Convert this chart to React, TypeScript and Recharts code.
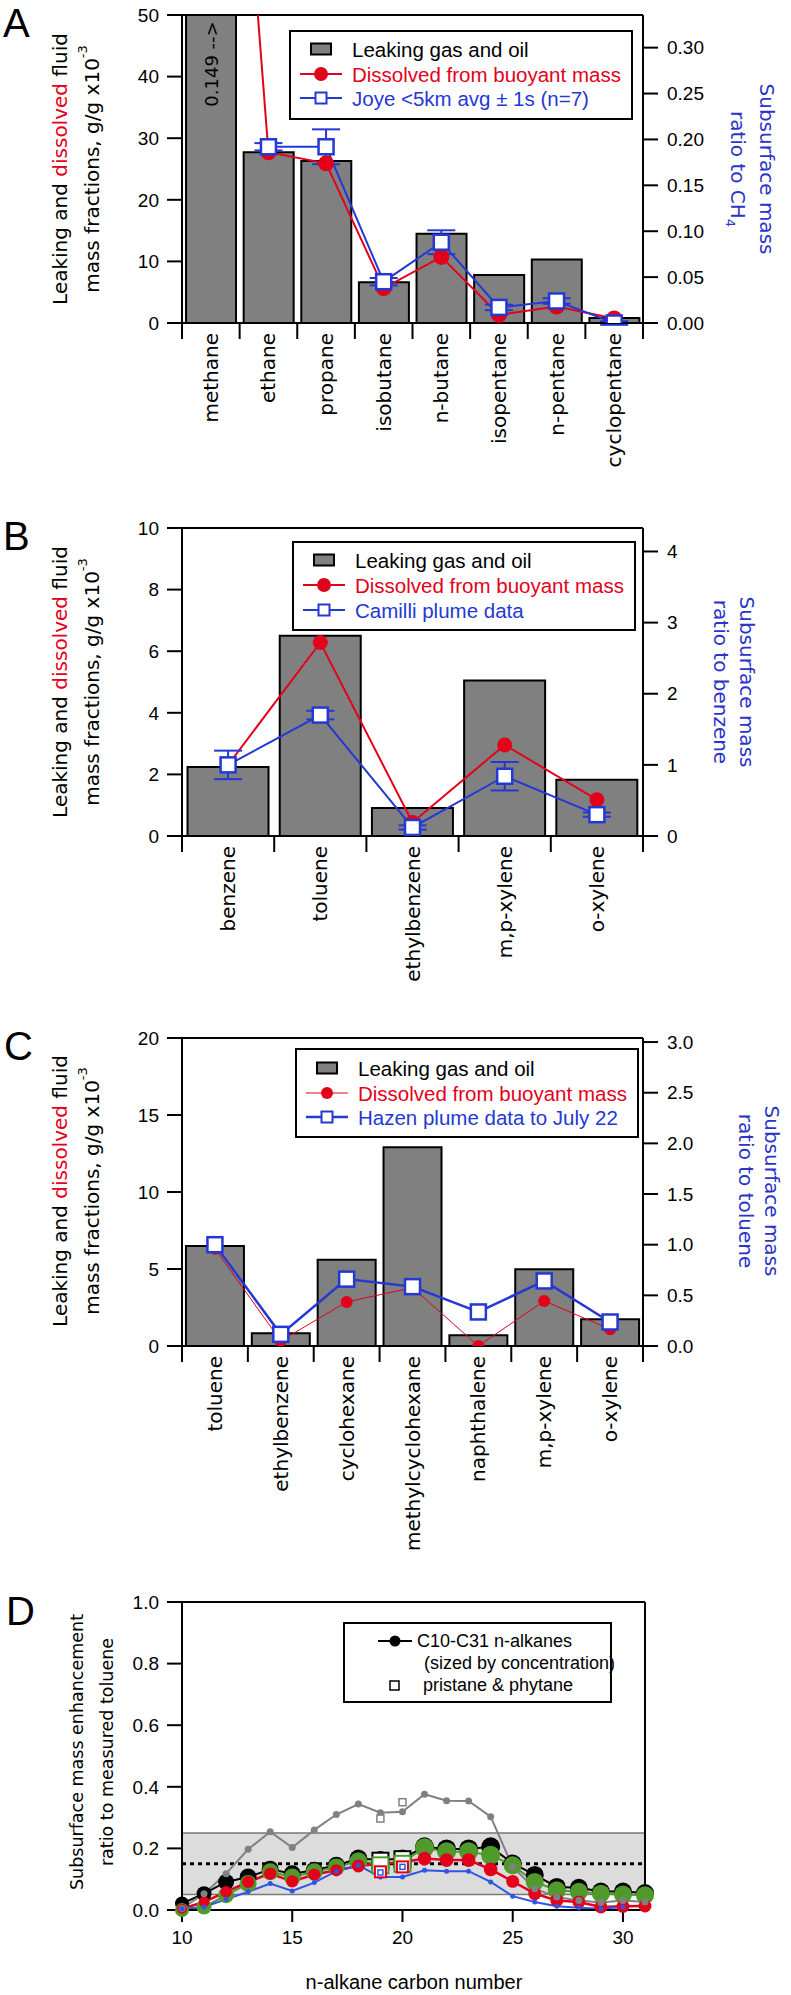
import React from 'react';
import { ComposedChart, Bar, Line, XAxis, YAxis, ReferenceLine, ReferenceArea, ErrorBar } from 'recharts';

// ---- data (left axis in g/g x10^-3, right axis as ratio) ----
const catsA = ['methane', 'ethane', 'propane', 'isobutane', 'n-butane', 'isopentane', 'n-pentane', 'cyclopentane'];
const leakA = [149, 27.7, 26.3, 6.6, 14.5, 7.8, 10.3, 0.8];
const dissolvedA = [1.0, 0.186, 0.174, 0.038, 0.072, 0.009, 0.018, 0.005];
const joyeA = [null, 0.192, 0.192, 0.045, 0.088, 0.017, 0.024, 0.0];
const joyeErrA = [null, 0.004, 0.019, 0.004, 0.013, 0.003, 0.003, 0.002];

const catsB = ['benzene', 'toluene', 'ethylbenzene', 'm,p-xylene', 'o-xylene'];
const leakB = [2.24, 6.5, 0.91, 5.05, 1.83];
const dissolvedB = [1.0, 2.72, 0.19, 1.28, 0.51];
const camilliB = [1.0, 1.7, 0.12, 0.84, 0.3];
const camilliErrB = [0.2, 0.06, 0.03, 0.2, 0.03];

const catsC = ['toluene', 'ethylbenzene', 'cyclohexane', 'methylcyclohexane', 'naphthalene', 'm,p-xylene', 'o-xylene'];
const leakC = [6.5, 0.82, 5.6, 12.9, 0.69, 4.99, 1.73];
const dissolvedC = [0.96, 0.05, 0.435, 0.576, 0.0, 0.445, 0.165];
const hazenC = [1.0, 0.115, 0.66, 0.586, 0.336, 0.642, 0.237];

const carbonNumbers = [10, 11, 12, 13, 14, 15, 16, 17, 18, 19, 20, 21, 22, 23, 24, 25, 26, 27, 28, 29, 30, 31];
const alkBlack = [0.021, 0.053, 0.091, 0.107, 0.132, 0.118, 0.129, 0.145, 0.167, 0.162, 0.167, 0.205, 0.198, 0.198, 0.205, 0.151, 0.114, 0.075, 0.072, 0.06, 0.06, 0.055];
const alkGreen = [0.0, 0.01, 0.048, 0.086, 0.124, 0.107, 0.124, 0.14, 0.158, 0.15, 0.155, 0.202, 0.189, 0.189, 0.178, 0.145, 0.091, 0.064, 0.059, 0.053, 0.05, 0.048];
const alkRed = [0.004, 0.026, 0.059, 0.091, 0.118, 0.093, 0.115, 0.129, 0.143, 0.15, 0.155, 0.167, 0.162, 0.162, 0.132, 0.093, 0.053, 0.031, 0.026, 0.01, 0.012, 0.013];
const alkGray = [0.005, 0.053, 0.118, 0.197, 0.254, 0.203, 0.26, 0.31, 0.344, 0.316, 0.319, 0.376, 0.355, 0.354, 0.303, 0.14, 0.069, 0.042, 0.031, 0.024, 0.031, 0.026];
const alkBlue = [0.004, 0.01, 0.035, 0.059, 0.086, 0.062, 0.089, 0.126, 0.145, 0.107, 0.107, 0.129, 0.126, 0.126, 0.091, 0.045, 0.026, 0.012, 0.007, 0.004, 0.01, null];
const alkSize = [7, 7.5, 8, 8.5, 8.5, 8.5, 8.5, 8.5, 9, 9, 9, 9.5, 9.5, 9.5, 9.5, 9, 9, 9, 9, 9, 9, 9];

// pristane (C19) & phytane (C20)
const isoN = [19, 20];
const isoBlack = [0.16, 0.165];
const isoGreen = [0.145, 0.15];
const isoRed = [0.124, 0.14];
const isoBlue = [0.122, 0.14];
const isoGray = [0.297, 0.35];

const bandLow = 0.05;
const bandHigh = 0.25;
const bandMid = 0.15;

// ---- tables ----
const tableA = catsA.map((name, i) => ({ name, leak: leakA[i], dissolved: dissolvedA[i], plume: joyeA[i], err: joyeErrA[i] }));
const tableB = catsB.map((name, i) => ({ name, leak: leakB[i], dissolved: dissolvedB[i], plume: camilliB[i], err: camilliErrB[i] }));
const tableC = catsC.map((name, i) => ({ name, leak: leakC[i], dissolved: dissolvedC[i], plume: hazenC[i] }));
const tableD = carbonNumbers.map((n, i) => {
  const k = isoN.indexOf(n);
  return {
    n,
    size: alkSize[i],
    black: alkBlack[i],
    green: alkGreen[i],
    red: alkRed[i],
    gray: alkGray[i],
    blue: alkBlue[i],
    isoBlack: k >= 0 ? isoBlack[k] : null,
    isoGreen: k >= 0 ? isoGreen[k] : null,
    isoRed: k >= 0 ? isoRed[k] : null,
    isoBlue: k >= 0 ? isoBlue[k] : null,
    isoGray: k >= 0 ? isoGray[k] : null,
  };
});

// ---- styles ----
const TICK_FONT = '"Liberation Sans", Arial, sans-serif';
const LABEL_FONT = '"DejaVu Sans", Verdana, sans-serif';
const RED = '#e3001b';
const BLUE = '#2438d4';
const TITLE_BLUE = '#2a34c8';
const GREEN = '#4f9a2b';
const GRAY = '#808080';

const PLOT_LEFT = 182;
const PLOT_RIGHT = 643;
const PLOT_W = PLOT_RIGHT - PLOT_LEFT;
const W = 791;

const tickStyle = { fill: '#000', fontSize: 19, fontFamily: TICK_FONT };
const axisStroke = { stroke: '#000', strokeWidth: 2 };

function makeCategoryTick(count: number) {
  const band = PLOT_W / count;
  return (props: any) => {
    const { x, y, payload, index } = props;
    return (
      <g>
        <line x1={x - band / 2} x2={x - band / 2} y1={y} y2={y + 16} stroke="#000" strokeWidth={2} />
        {index === count - 1 && <line x1={x + band / 2} x2={x + band / 2} y1={y} y2={y + 16} stroke="#000" strokeWidth={2} />}
        <text
          x={x}
          y={y + 10}
          transform={`rotate(-90, ${x}, ${y + 10})`}
          textAnchor="end"
          dominantBaseline="central"
          fontSize={20}
          fontFamily={LABEL_FONT}
          fill="#000"
        >
          {payload.value}
        </text>
      </g>
    );
  };
}

const squareDot = (size: number, stroke: string, sw: number, fill = '#fff') => (props: any) => {
  const { cx, cy, index, value } = props;
  if (cx == null || cy == null || value == null) return <g key={`sq-${index}`} />;
  return <rect key={`sq-${index}`} x={cx - size / 2} y={cy - size / 2} width={size} height={size} fill={fill} stroke={stroke} strokeWidth={sw} />;
};

const circleDot = (fill: string, scale: number) => (props: any) => {
  const { cx, cy, index, value, payload } = props;
  if (cx == null || cy == null || value == null) return <g key={`c-${index}`} />;
  return <circle key={`c-${index}`} cx={cx} cy={cy} r={payload.size * scale} fill={fill} />;
};

interface BarPanelProps {
  top: number;
  data: any[];
  leftMax: number;
  leftTicks: number[];
  rightMax: number;
  rightTicks: number[];
  rightFmt: (v: number) => string;
  gap: string;
  redWidth: number;
  redR: number;
  blueWidth: number;
  xHeight: number;
  withErr: boolean;
}

const BarPanel: React.FC<BarPanelProps> = (p) => {
  const plotH = 308;
  const height = 15 + plotH + p.xHeight;
  return (
    <div style={{ position: 'absolute', left: 0, top: p.top }}>
      <ComposedChart width={W} height={height} data={p.data} margin={{ top: 15, right: 0, bottom: 0, left: 0 }} barCategoryGap={p.gap}>
        <XAxis
          dataKey="name"
          interval={0}
          tickSize={0}
          tickMargin={0}
          height={p.xHeight}
          axisLine={axisStroke}
          tick={makeCategoryTick(p.data.length)}
        />
        <YAxis
          yAxisId="left"
          width={PLOT_LEFT}
          domain={[0, p.leftMax]}
          ticks={p.leftTicks}
          allowDataOverflow
          tickSize={15}
          tickMargin={8}
          tick={tickStyle}
          axisLine={axisStroke}
          tickLine={axisStroke}
        />
        <YAxis
          yAxisId="right"
          orientation="right"
          width={W - PLOT_RIGHT}
          domain={[0, p.rightMax]}
          ticks={p.rightTicks}
          tickFormatter={p.rightFmt}
          allowDataOverflow
          tickSize={15}
          tickMargin={9}
          tick={tickStyle}
          axisLine={axisStroke}
          tickLine={axisStroke}
        />
        <ReferenceLine yAxisId="left" y={p.leftMax} stroke="#000" strokeWidth={2} />
        <Bar yAxisId="left" dataKey="leak" fill={GRAY} stroke="#000" strokeWidth={2} isAnimationActive={false} />
        <Line
          yAxisId="right"
          dataKey="dissolved"
          stroke={RED}
          strokeWidth={p.redWidth}
          dot={{ r: p.redR, fill: RED, stroke: RED, strokeWidth: 0 }}
          activeDot={false}
          isAnimationActive={false}
        />
        <Line
          yAxisId="right"
          dataKey="plume"
          stroke={BLUE}
          strokeWidth={p.blueWidth}
          dot={squareDot(15, BLUE, 2.5)}
          activeDot={false}
          isAnimationActive={false}
        >
          {p.withErr && <ErrorBar dataKey="err" width={14} stroke={BLUE} strokeWidth={2} direction="y" />}
        </Line>
      </ComposedChart>
    </div>
  );
};

const LeftTitle: React.FC<{ cy: number }> = ({ cy }) => (
  <g fontFamily={LABEL_FONT} fontSize={20} fill="#000">
    <text transform={`translate(67, ${cy}) rotate(-90)`} textAnchor="middle">
      Leaking and <tspan fill={RED}>dissolved</tspan> fluid
    </text>
    <text transform={`translate(99, ${cy}) rotate(-90)`} textAnchor="middle">
      mass fractions, g/g x10<tspan dy={-12} fontSize={13}>-3</tspan>
    </text>
  </g>
);

const RightTitle: React.FC<{ cy: number; x1: number; x2: number; children: React.ReactNode }> = ({ cy, x1, x2, children }) => (
  <g fontFamily={LABEL_FONT} fontSize={20} fill={TITLE_BLUE}>
    <text transform={`translate(${x1}, ${cy}) rotate(90)`} textAnchor="middle">Subsurface mass</text>
    <text transform={`translate(${x2}, ${cy}) rotate(90)`} textAnchor="middle">{children}</text>
  </g>
);

const Legend3: React.FC<{ x: number; y: number; rows: number[]; third: string; redR: number; redW: number; blueW: number }> = ({ x, y, rows, third, redR, redW, blueW }) => {
  const sx = x + 31;
  const tx = x + 62;
  return (
    <g fontFamily={TICK_FONT} fontSize={20.5}>
      <rect x={x} y={y} width={342} height={88} fill="#fff" stroke="#000" strokeWidth={2} />
      <rect x={sx - 10} y={y + rows[0] - 5.5} width={20} height={11} fill={GRAY} stroke="#000" strokeWidth={2} />
      <text x={tx} y={y + rows[0]} dominantBaseline="central" fill="#000">Leaking gas and oil</text>
      <line x1={sx - 21} x2={sx + 21} y1={y + rows[1]} y2={y + rows[1]} stroke={RED} strokeWidth={redW} />
      <circle cx={sx} cy={y + rows[1]} r={redR} fill={RED} />
      <text x={tx} y={y + rows[1]} dominantBaseline="central" fill={RED}>Dissolved from buoyant mass</text>
      <line x1={sx - 21} x2={sx + 21} y1={y + rows[2]} y2={y + rows[2]} stroke={BLUE} strokeWidth={blueW} />
      <rect x={sx - 5.5} y={y + rows[2] - 5.5} width={11} height={11} fill="#fff" stroke={BLUE} strokeWidth={2} />
      <text x={tx} y={y + rows[2]} dominantBaseline="central" fill={BLUE}>{third}</text>
    </g>
  );
};

export default function App() {
  const dTop = 1587;
  return (
    <div style={{ position: 'absolute', left: 0, top: 0, width: W, height: 1995, background: '#fff', overflow: 'hidden' }}>
      <BarPanel
        top={0}
        data={tableA}
        leftMax={50}
        leftTicks={[0, 10, 20, 30, 40, 50]}
        rightMax={50 / 149}
        rightTicks={[0, 0.05, 0.1, 0.15, 0.2, 0.25, 0.3]}
        rightFmt={(v) => v.toFixed(2)}
        gap="7%"
        redWidth={2}
        redR={8}
        blueWidth={2}
        xHeight={160}
        withErr
      />
      <BarPanel
        top={513}
        data={tableB}
        leftMax={10}
        leftTicks={[0, 2, 4, 6, 8, 10]}
        rightMax={4.33}
        rightTicks={[0, 1, 2, 3, 4]}
        rightFmt={(v) => String(v)}
        gap="6%"
        redWidth={2}
        redR={7.5}
        blueWidth={2}
        xHeight={160}
        withErr
      />
      <BarPanel
        top={1023}
        data={tableC}
        leftMax={20}
        leftTicks={[0, 5, 10, 15, 20]}
        rightMax={3.04}
        rightTicks={[0, 0.5, 1, 1.5, 2, 2.5, 3]}
        rightFmt={(v) => v.toFixed(1)}
        gap="6%"
        redWidth={1}
        redR={6}
        blueWidth={2.5}
        xHeight={220}
        withErr={false}
      />

      <div style={{ position: 'absolute', left: 0, top: dTop }}>
        <ComposedChart width={W} height={15 + 308 + 50} data={tableD} margin={{ top: 15, right: W - 645, bottom: 0, left: 0 }}>
          <XAxis
            dataKey="n"
            type="number"
            domain={[10, 31]}
            ticks={[10, 15, 20, 25, 30]}
            height={50}
            tickSize={12}
            tickMargin={9}
            tick={tickStyle}
            axisLine={axisStroke}
            tickLine={axisStroke}
          />
          <YAxis
            width={PLOT_LEFT}
            domain={[0, 1]}
            ticks={[0, 0.2, 0.4, 0.6, 0.8, 1]}
            tickFormatter={(v) => v.toFixed(1)}
            tickSize={15}
            tickMargin={8}
            tick={tickStyle}
            axisLine={axisStroke}
            tickLine={axisStroke}
          />
          <ReferenceArea y1={bandLow} y2={bandHigh} fill="#dcdcdc" fillOpacity={1} stroke="none" />
          <ReferenceLine y={bandLow} stroke="#777" strokeWidth={1.5} />
          <ReferenceLine y={bandHigh} stroke="#777" strokeWidth={1.5} />
          <ReferenceLine y={bandMid} stroke="#000" strokeWidth={3} strokeDasharray="4 4" />
          <ReferenceLine y={1} stroke="#000" strokeWidth={2} />
          <ReferenceLine x={31} stroke="#000" strokeWidth={2} />
          <Line dataKey="black" stroke="#000" strokeWidth={2} dot={circleDot('#000', 1)} activeDot={false} isAnimationActive={false} />
          <Line dataKey="green" stroke={GREEN} strokeWidth={2} dot={circleDot(GREEN, 1)} activeDot={false} isAnimationActive={false} />
          <Line dataKey="red" stroke={RED} strokeWidth={2.5} dot={circleDot(RED, 0.72)} activeDot={false} isAnimationActive={false} />
          <Line dataKey="gray" stroke={GRAY} strokeWidth={2} dot={{ r: 3.5, fill: GRAY, stroke: GRAY, strokeWidth: 0 }} activeDot={false} isAnimationActive={false} />
          <Line dataKey="blue" stroke="#2f55e6" strokeWidth={2} dot={{ r: 2.5, fill: '#2f55e6', stroke: '#2f55e6', strokeWidth: 0 }} activeDot={false} isAnimationActive={false} />
          <Line dataKey="isoBlack" stroke="none" dot={squareDot(16, '#000', 2)} activeDot={false} isAnimationActive={false} />
          <Line dataKey="isoGreen" stroke="none" dot={squareDot(16, GREEN, 2)} activeDot={false} isAnimationActive={false} />
          <Line dataKey="isoRed" stroke="none" dot={squareDot(11, RED, 2)} activeDot={false} isAnimationActive={false} />
          <Line dataKey="isoBlue" stroke="none" dot={squareDot(5, '#2f55e6', 1.5)} activeDot={false} isAnimationActive={false} />
          <Line dataKey="isoGray" stroke="none" dot={squareDot(7, GRAY, 1.5)} activeDot={false} isAnimationActive={false} />
        </ComposedChart>
      </div>

      <svg width={W} height={1995} style={{ position: 'absolute', left: 0, top: 0, pointerEvents: 'none' }}>
        <g fontFamily={TICK_FONT} fontSize={40} fill="#000">
          <text x={3} y={37}>A</text>
          <text x={3} y={550}>B</text>
          <text x={4} y={1060}>C</text>
          <text x={6} y={1625}>D</text>
        </g>

        {/* panel A */}
        <text transform="translate(211, 64) rotate(-90)" textAnchor="middle" dominantBaseline="central" fontFamily={LABEL_FONT} fontSize={18} fill="#000">
          0.149 --&gt;
        </text>
        <LeftTitle cy={169} />
        <RightTitle cy={169} x1={760} x2={731}>
          ratio to CH<tspan dy={5} fontSize={13}>4</tspan>
        </RightTitle>
        <Legend3 x={290} y={31} rows={[18, 43, 67]} third="Joye <5km avg ± 1s (n=7)" redR={7} redW={2} blueW={2} />

        {/* panel B */}
        <LeftTitle cy={682} />
        <RightTitle cy={682} x1={740} x2={714}>ratio to benzene</RightTitle>
        <Legend3 x={293} y={542} rows={[18, 43, 68]} third="Camilli plume data" redR={7} redW={2} blueW={2} />

        {/* panel C */}
        <LeftTitle cy={1191} />
        <RightTitle cy={1191} x1={765} x2={739}>ratio to toluene</RightTitle>
        <Legend3 x={296} y={1049} rows={[19, 44, 68]} third="Hazen plume data to July 22" redR={6} redW={1} blueW={2.5} />

        {/* panel D */}
        <g fontFamily={LABEL_FONT} fontSize={17.5} fill="#000">
          <text transform="translate(83, 1752) rotate(-90)" textAnchor="middle">Subsurface mass enhancement</text>
          <text transform="translate(113, 1752) rotate(-90)" textAnchor="middle">ratio to measured toluene</text>
        </g>
        <text x={414} y={1982} textAnchor="middle" dominantBaseline="central" fontFamily={TICK_FONT} fontSize={20} fill="#000">
          n-alkane carbon number
        </text>
        <g fontFamily={TICK_FONT} fontSize={18} fill="#000">
          <rect x={344} y={1623} width={267} height={79} fill="#fff" stroke="#000" strokeWidth={2} />
          <line x1={378} x2={412} y1={1641} y2={1641} stroke="#000" strokeWidth={2} />
          <circle cx={395} cy={1641} r={5.5} fill="#000" />
          <text x={417} y={1641} dominantBaseline="central">C10-C31 n-alkanes</text>
          <text x={424} y={1663} dominantBaseline="central">(sized by  concentration)</text>
          <rect x={390} y={1681} width={9} height={9} fill="#fff" stroke="#000" strokeWidth={1.5} />
          <text x={423} y={1685} dominantBaseline="central">pristane &amp; phytane</text>
        </g>
      </svg>
    </div>
  );
}
